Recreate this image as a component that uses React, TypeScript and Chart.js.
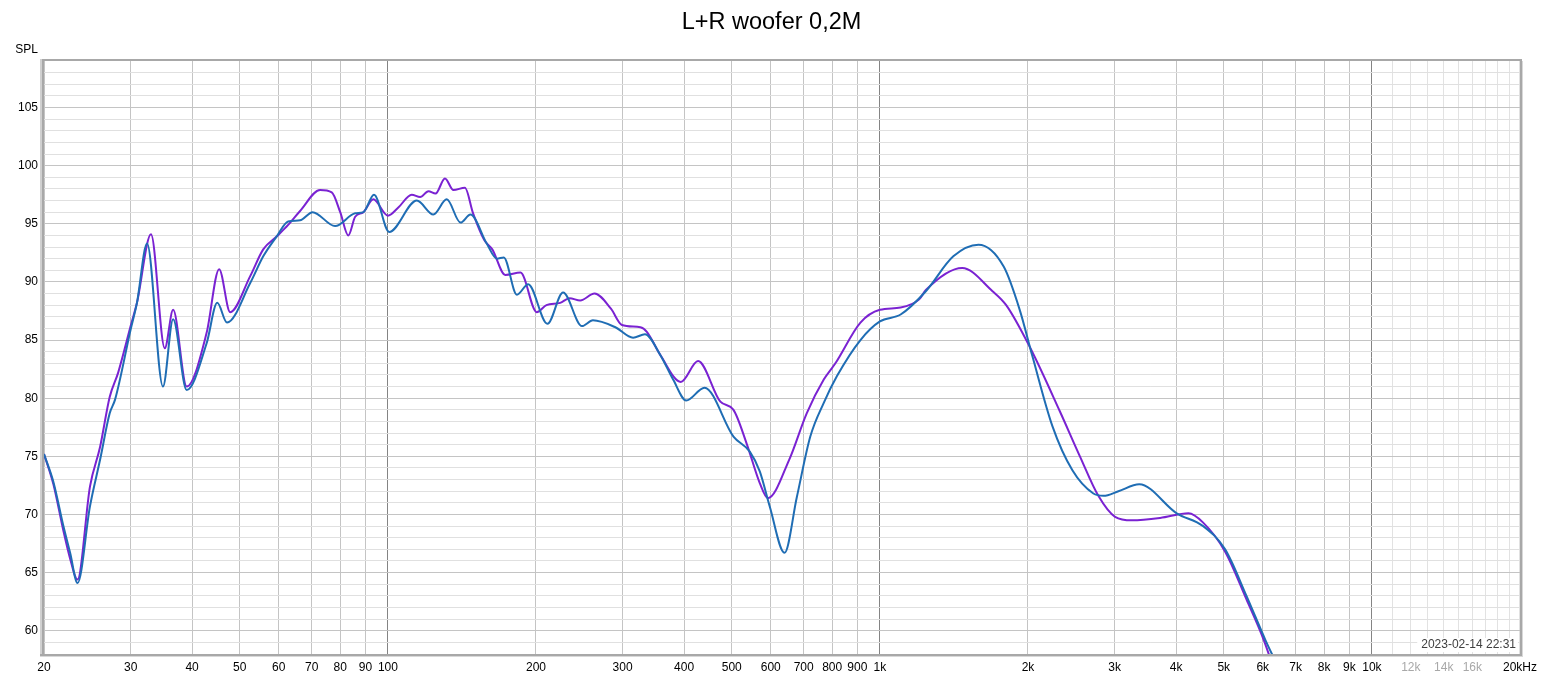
import React, { useEffect, useRef } from "react";
import { Chart, registerables } from "chart.js";

Chart.register(...registerables);

const TITLE = "L+R woofer 0,2M";
const Y_AXIS_LABEL = "SPL";
const TIMESTAMP = "2023-02-14 22:31";

// Purple trace (L)
const purpleFreq = [
  20, 20.9, 21.9, 22.6, 23.4, 24.8, 26.0, 27.2, 28.3, 30, 30.9, 33.0, 35.2, 36.6, 39.0, 42.8, 45.4, 47.8,
  52.5, 55.8, 59.4, 62.7, 66.3, 72.8, 76.9, 80.0, 83.1, 85.8, 89.2, 93.4, 100, 105, 111.8,
  116.3, 120.9, 125, 130.6, 135.9, 143.4, 149.0, 157, 163, 173.2, 186, 200.7, 210, 224, 234,
  246, 263, 284, 299, 326, 336, 358, 394, 427, 474, 504, 536, 570, 592, 654, 710, 769, 812,
  913, 1000, 1102, 1202, 1240, 1470, 1694, 1806, 2017, 2320, 2550, 2780, 3006, 3254, 3712,
  4238, 4540, 5032, 5560, 6030, 6400,
];
const purpleSpl = [
  75.2, 72.6, 68.6, 66.2, 64.4, 72.4, 75.8, 80.1, 82.2, 86.2, 88.2, 94.1, 84.3, 87.6, 81.0, 85.6, 91.1, 87.4,
  90.5, 92.8, 93.9, 94.9, 96.1, 97.9, 97.7, 96.0, 94.0, 95.6, 96.0, 97.1, 95.7, 96.4, 97.5,
  97.3, 97.8, 97.6, 98.9, 97.9, 98.1, 95.9, 93.6, 92.8, 90.6, 90.8, 87.4, 88.0, 88.2, 88.6,
  88.4, 89.0, 87.7, 86.3, 86.1, 85.7, 83.7, 81.4, 83.2, 79.7, 79.0, 76.1, 72.7, 71.4, 74.7, 78.7, 81.6, 83.0,
  86.5, 87.6, 87.8, 88.5, 89.3, 91.2, 89.2, 88.0, 84.4, 78.9, 75.0, 71.6, 69.8, 69.5, 69.7,
  70.1, 69.3, 66.8, 62.7, 59.2, 56.0,
];

// Blue trace (R)
const blueFreq = [
  20, 20.9, 21.9, 22.6, 23.4, 24.8, 26.0, 27.2, 27.9, 30, 30.9, 32.4, 34.9, 36.6, 39.0, 42.8, 45.0, 47.1,
  52.5, 55.8, 59.4, 62.7, 66.3, 70.3, 78.1, 85.8, 89.2, 93.7, 100.6, 114.5, 123.7, 131.7,
  140.5, 147.2, 158.8, 166.6, 172, 182.9, 192.8, 211, 227, 248, 261, 290, 315, 333, 358, 380,
  404, 440, 504, 544, 570, 597, 640, 678, 722, 769, 818, 913, 1000, 1102, 1240, 1410, 1586,
  1786, 1924, 2042, 2242, 2462, 2716, 2848, 3054, 3366, 4012, 4540, 5032, 5560, 6076, 6600,
];
const blueSpl = [
  75.2, 72.8, 69.0, 66.7, 64.1, 70.7, 74.7, 78.7, 79.9, 85.9, 88.2, 93.3, 81.0, 86.8, 80.7, 84.7, 88.2, 86.5,
  89.9, 92.2, 93.9, 95.2, 95.3, 96.0, 94.8, 95.9, 96.0, 97.5, 94.3, 97.0, 95.8, 97.1,
  95.1, 95.8, 93.3, 92.0, 92.1, 88.9, 89.8, 86.4, 89.1, 86.2, 86.7, 86.1, 85.2, 85.5, 83.7, 81.6,
  79.8, 80.9, 76.7, 75.4, 73.7, 70.7, 66.7, 71.5, 76.7, 79.6, 81.9, 85.0, 86.6, 87.2, 89.2, 92.2, 93.2,
  91.3, 87.6, 83.6, 77.6, 73.8, 71.8, 71.6, 72.0, 72.6, 70.1, 69.0, 67.0, 63.0, 59.2, 56.0,
];

const Y_MIN = 58;
const Y_MAX = 109;
const yLabelValues = [60, 65, 70, 75, 80, 85, 90, 95, 100, 105];

const xGridFreqs = [
  20, 30, 40, 50, 60, 70, 80, 90, 100, 200, 300, 400, 500, 600, 700, 800, 900, 1000,
  2000, 3000, 4000, 5000, 6000, 7000, 8000, 9000, 10000,
  11000, 12000, 13000, 14000, 15000, 16000, 17000, 18000, 19000, 20000,
];
const xDecadeFreqs = [100, 1000, 10000];
const xLabelFreqs = [
  20, 30, 40, 50, 60, 70, 80, 90, 100, 200, 300, 400, 500, 600, 700, 800, 900, 1000,
  2000, 3000, 4000, 5000, 6000, 7000, 8000, 9000, 10000, 12000, 14000, 16000, 20000,
];
const xLabelTexts = [
  "20", "30", "40", "50", "60", "70", "80", "90", "100", "200", "300", "400", "500", "600",
  "700", "800", "900", "1k", "2k", "3k", "4k", "5k", "6k", "7k", "8k", "9k", "10k",
  "12k", "14k", "16k", "20kHz",
];
const xFadedLabels = [12000, 14000, 16000];

const FONT = "'Liberation Sans', Arial, Helvetica, sans-serif";
const PURPLE = "#7a22d2";
const BLUE = "#1f6db4";

const W = 1543;
const H = 679;

const decorPlugin = {
  id: "decor",
  afterDraw(chart: any) {
    const { ctx, chartArea } = chart;
    const { left, right, top, bottom } = chartArea;
    ctx.save();
    // frame
    ctx.fillStyle = "#d0d0d0";
    ctx.fillRect(left - 4, top - 2, 3, bottom - top + 4);
    ctx.fillStyle = "#a8a8a8";
    ctx.fillRect(left - 2, top - 2, 2, bottom - top + 4);
    ctx.fillRect(left - 2, top - 2, right - left + 4, 2);
    ctx.fillRect(right, top - 2, 2, bottom - top + 4);
    ctx.fillRect(left - 4, bottom, right - left + 6, 2);
    ctx.fillStyle = "#d8d8d8";
    ctx.fillRect(left - 4, bottom + 2, right - left + 7, 1);
    ctx.fillRect(right + 2, top, 1, bottom - top + 3);

    // title
    ctx.fillStyle = "#000";
    ctx.font = `23.5px ${FONT}`;
    ctx.textAlign = "center";
    ctx.textBaseline = "middle";
    ctx.fillText(TITLE, W / 2, 23);

    // axis name
    ctx.font = `12px ${FONT}`;
    ctx.textAlign = "right";
    ctx.fillText(Y_AXIS_LABEL, 38, 50);

    // timestamp
    ctx.font = `12px ${FONT}`;
    const tw = ctx.measureText(TIMESTAMP).width;
    ctx.fillStyle = "#fff";
    ctx.fillRect(right - 6 - tw - 2, bottom - 16, tw + 6, 14);
    ctx.fillStyle = "#404040";
    ctx.textAlign = "right";
    ctx.textBaseline = "middle";
    ctx.fillText(TIMESTAMP, right - 4, bottom - 9);
    ctx.restore();
  },
};

export default function App() {
  const ref = useRef<HTMLCanvasElement | null>(null);

  useEffect(() => {
    document.body.style.margin = "0";
    document.body.style.overflow = "hidden";
    const canvas = ref.current;
    if (!canvas) return;

    const yGrid: number[] = [];
    for (let v = Y_MIN + 1; v < Y_MAX; v++) yGrid.push(v);

    const chart = new Chart(canvas, {
      type: "line",
      data: {
        datasets: [
          {
            label: "R",
            data: blueFreq.map((f, i) => ({ x: f, y: blueSpl[i] })),
            borderColor: BLUE,
            borderWidth: 2,
            pointRadius: 0,
            fill: false,
            cubicInterpolationMode: "monotone",
            order: 0,
          },
          {
            label: "L",
            data: purpleFreq.map((f, i) => ({ x: f, y: purpleSpl[i] })),
            borderColor: PURPLE,
            borderWidth: 2,
            pointRadius: 0,
            fill: false,
            cubicInterpolationMode: "monotone",
            order: 1,
          },
        ],
      },
      options: {
        responsive: false,
        animation: false,
        devicePixelRatio: 1,
        layout: { padding: { top: 61, right: 22, left: 0, bottom: 0 } },
        plugins: {
          legend: { display: false },
          tooltip: { enabled: false },
          title: { display: false },
        },
        scales: {
          x: {
            type: "logarithmic",
            min: 20,
            max: 20000,
            afterBuildTicks: (s: any) => {
              s.ticks = xGridFreqs.map((v) => ({ value: v }));
            },
            afterFit: (s: any) => {
              s.height = 25;
            },
            ticks: {
              autoSkip: false,
              maxRotation: 0,
              minRotation: 0,
              padding: 6,
              font: { family: FONT, size: 12 },
              color: (c: any) =>
                c.tick && xFadedLabels.includes(c.tick.value) ? "#a8a8a8" : "#000",
              callback: (v: any) => {
                const i = xLabelFreqs.indexOf(Number(v));
                return i >= 0 ? xLabelTexts[i] : "";
              },
            },
            grid: {
              drawTicks: false,
              lineWidth: 1,
              color: (c: any) => {
                const v = c.tick ? c.tick.value : 0;
                if (xDecadeFreqs.includes(v)) return "#848484";
                if (v > 10000) return "#e2e2e2";
                return "#c4c4c4";
              },
            },
            border: { display: false },
          },
          y: {
            type: "linear",
            min: Y_MIN,
            max: Y_MAX,
            afterBuildTicks: (s: any) => {
              s.ticks = yGrid.map((v) => ({ value: v }));
            },
            afterFit: (s: any) => {
              s.width = 44;
            },
            ticks: {
              autoSkip: false,
              padding: 6,
              font: { family: FONT, size: 12 },
              color: "#000",
              callback: (v: any) => (yLabelValues.includes(Number(v)) ? String(v) : ""),
            },
            grid: {
              drawTicks: false,
              lineWidth: 1,
              color: (c: any) =>
                c.tick && yLabelValues.includes(c.tick.value) ? "#c4c4c4" : "#e0e0e0",
            },
            border: { display: false },
          },
        },
      },
      plugins: [decorPlugin],
    } as any);

    return () => chart.destroy();
  }, []);

  return (
    <div style={{ width: W, height: H, background: "#fff" }}>
      <canvas ref={ref} width={W} height={H} style={{ display: "block", width: W, height: H }} />
    </div>
  );
}
